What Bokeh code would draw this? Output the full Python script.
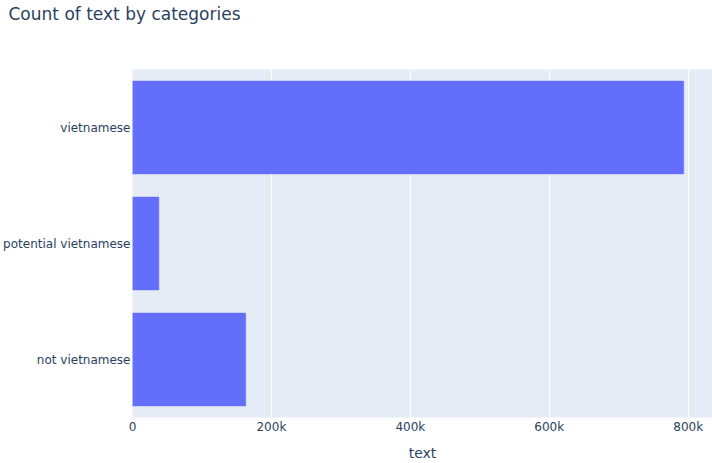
from bokeh.plotting import figure
from bokeh.models import Range1d, FactorRange, NumeralTickFormatter, FixedTicker, Title
from bokeh.embed import file_html
from bokeh.resources import INLINE

categories = ["not vietnamese", "potential vietnamese", "vietnamese"]
counts = [163000, 38000, 793500]
x_ticks = [0, 200000, 400000, 600000, 800000]

FONT = "DejaVu Sans"
TXT = "#2a3f5f"

p = figure(width=712, height=463, output_backend="svg", toolbar_location=None,
           y_range=FactorRange(factors=categories, range_padding=0),
           x_range=Range1d(0, 835000),
           min_border_left=131, min_border_right=0, min_border_top=0, min_border_bottom=46,
           title="Count of text by categories")

p.title.text_font = FONT
p.title.text_font_size = "17px"
p.title.text_font_style = "normal"
p.title.text_color = TXT
p.title.offset = 7 - 131
p.title.standoff = 7
p.title.vertical_align = "top"

spacer = Title(text=" ", text_font=FONT, text_font_size="17px", standoff=18)
p.add_layout(spacer, "above")

p.hbar(y=categories, right=counts, left=0, height=0.8, fill_color="#636efa",
       line_color="#636efa", line_width=0.5)

p.background_fill_color = "#e5ecf6"
p.border_fill_color = "white"
p.outline_line_color = None

p.xgrid.grid_line_color = "white"
p.xgrid.grid_line_width = 1
p.ygrid.grid_line_color = None

p.xaxis.ticker = FixedTicker(ticks=x_ticks)
p.xaxis.formatter = NumeralTickFormatter(format="0a")
p.xaxis.axis_line_color = None
p.xaxis.major_tick_line_color = None
p.xaxis.minor_tick_line_color = None
p.xaxis.major_tick_out = 0
p.xaxis.major_label_standoff = 2
p.xaxis.major_label_text_font = FONT
p.xaxis.major_label_text_font_size = "12px"
p.xaxis.major_label_text_color = TXT
p.xaxis.axis_label = "text"
p.xaxis.axis_label_text_font = FONT
p.xaxis.axis_label_text_font_size = "14px"
p.xaxis.axis_label_text_font_style = "normal"
p.xaxis.axis_label_text_color = TXT
p.xaxis.axis_label_standoff = 8

p.yaxis.axis_line_color = None
p.yaxis.major_tick_line_color = None
p.yaxis.minor_tick_line_color = None
p.yaxis.major_tick_out = 0
p.yaxis.major_label_standoff = 2
p.yaxis.major_label_text_font = FONT
p.yaxis.major_label_text_font_size = "12px"
p.yaxis.major_label_text_color = TXT

open("out.html", "w").write(file_html(p, INLINE))
